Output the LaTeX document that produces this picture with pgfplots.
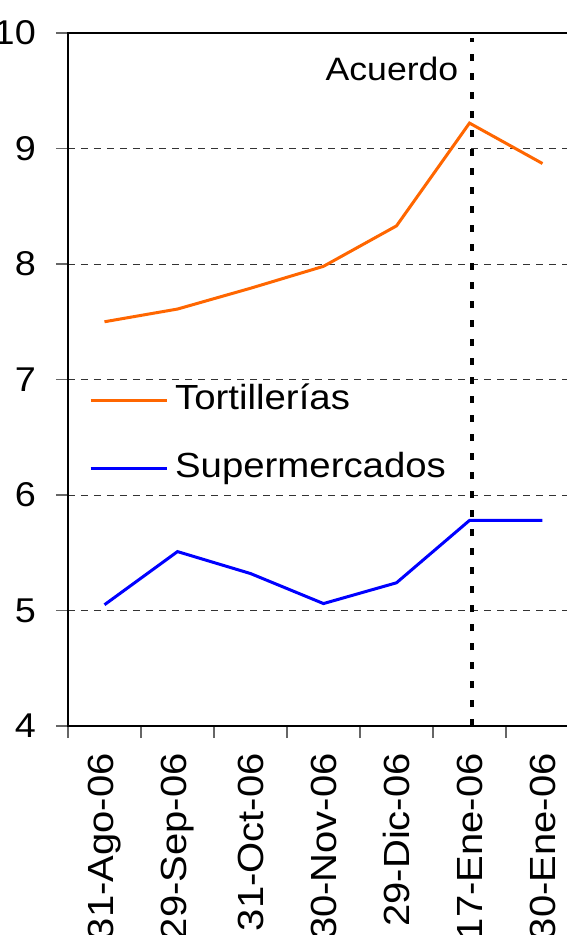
\documentclass[border=0pt]{standalone}
\usepackage{pgfplots}
\pgfplotsset{compat=1.18}
\usepackage{fontspec}
\setmainfont{Liberation Sans}[FakeStretch=1.1]
\definecolor{torti}{HTML}{FF6600}
\definecolor{super}{HTML}{0000FF}
\begin{document}
\begin{tikzpicture}
\useasboundingbox (-68bp,-209bp) rectangle (499bp,726bp);
\clip (-68bp,-209bp) rectangle (499bp,726bp);
\begin{axis}[
  at={(0,0)}, anchor=south west,
  scale only axis, width=511bp, height=693bp,
  xmin=-0.5, xmax=6.5, ymin=4, ymax=10,
  ytick={4,...,10},
  xtick={-0.5,0.5,...,6.5},
  x tick label as interval,
  xticklabels={31-Ago-06,29-Sep-06,31-Oct-06,30-Nov-06,29-Dic-06,17-Ene-06,30-Ene-06},
  /pgf/number format/assume math mode=true,
  ymajorgrids,
  grid style={dash pattern=on 7bp off 6bp, line width=1bp, color=black!80},
  axis line style={line width=2bp},
  tick style={line width=1.3bp, color=black!60},
  tick align=outside, major tick length=12bp,
  xtick pos=bottom, ytick pos=left,
  yticklabel style={font=\fontsize{34.5}{40}\selectfont, inner sep=0pt, xshift=-20bp},
  xticklabel style={font=\fontsize{36.5}{42}\selectfont, rotate=90, anchor=east, inner sep=0pt, xshift=-15bp},
  legend style={draw=none, fill=none, inner sep=0pt, anchor=west,
    at={(axis description cs:0.041,0.420)},
    font=\fontsize{35}{40}\selectfont,
    nodes={inner sep=0pt, text height=25bp, text depth=7bp},
    row sep=36bp},
  legend cell align=left,
  legend image code/.code={\draw[#1] (0bp,0bp) -- (76bp,0bp);},
  every axis legend/.append style={column sep=7bp},
]
\addplot[color=torti, line width=3bp] coordinates {(0,7.50)(1,7.61)(2,7.79)(3,7.98)(4,8.33)(5,9.22)(6,8.87)};
\addlegendentry{Tortillerías}
\addplot[color=super, line width=3bp] coordinates {(0,5.05)(1,5.51)(2,5.32)(3,5.06)(4,5.24)(5,5.78)(6,5.78)};
\addlegendentry{Supermercados}
\addplot[black, line width=4bp, dash pattern=on 7bp off 12bp, forget plot] coordinates {(5.03,4)(5.03,9.96)};
\node[anchor=base east, font=\fontsize{32.5}{38}\selectfont, inner sep=0pt] at (axis cs:5,9.59) [xshift=-11bp] {Acuerdo};
\end{axis}
\end{tikzpicture}
\end{document}
